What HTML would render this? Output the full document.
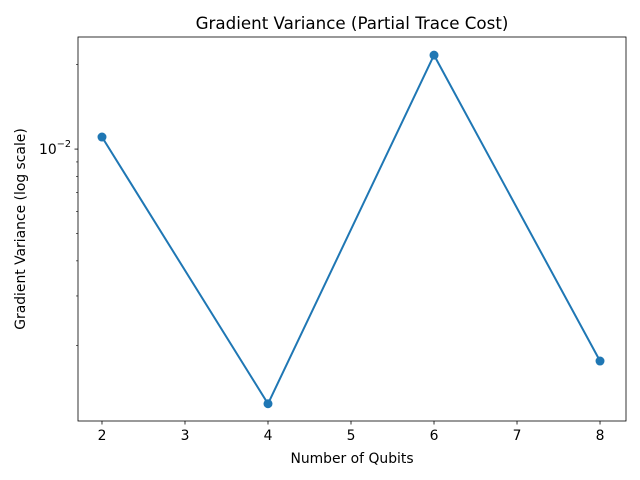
<!DOCTYPE html>
<html><head><meta charset="utf-8"><style>body{margin:0;background:#fff}svg{display:block;font-family:"DejaVu Sans","Liberation Sans",sans-serif}</style></head>
<body>
<svg id="c" width="640" height="480" xmlns="http://www.w3.org/2000/svg"></svg>
<script>
const qubits = [2, 4, 6, 8];
const variance = [0.01104, 0.00124, 0.0216, 0.00176];
const xTicks = [2, 3, 4, 5, 6, 7, 8];
const L=78,R=626,T=37,B=421;
const xmin=1.711,xmax=8.313,lymin=-2.968,lymax=-1.601;
const X=v=>L+(v-xmin)/(xmax-xmin)*(R-L);
const Y=v=>B-(Math.log10(v)-lymin)/(lymax-lymin)*(B-T);
const s=document.getElementById('c');const NS='http://www.w3.org/2000/svg';
function el(t,a,txt){const e=document.createElementNS(NS,t);for(const k in a)e.setAttribute(k,a[k]);if(txt!==undefined)e.textContent=txt;s.appendChild(e);return e;}
let e;
e=el('text',{x:352,y:29,'text-anchor':'middle','font-size':16.7},'Gradient Variance (Partial Trace Cost)');


xTicks.forEach(t=>{const x=X(t);
e=el('line',{x1:x,x2:x,y1:B,y2:B+3.5,stroke:'#000','stroke-width':0.8});


e=el('text',{x:x,y:B+19,'text-anchor':'middle','font-size':13.9},String(t));

});
for(let d=-3;d<=-2;d++)for(let m=1;m<=9;m++){const v=m*Math.pow(10,d);const lv=Math.log10(v);if(lv<lymin||lv>lymax)continue;const y=Y(v);
e=el('line',{x1:L,x2:L-(m===1?3.5:2),y1:y,y2:y,stroke:'#000','stroke-width':m===1?0.8:0.6});


if(m===1){e=el('text',{x:L-7,y:y+5,'text-anchor':'end','font-size':13.9});


e.innerHTML='10<tspan dy="-7" font-size="9.7">−'+(-d)+'</tspan>';}}
e=el('text',{x:352,y:463,'text-anchor':'middle','font-size':13.9},'Number of Qubits');


e=el('text',{x:0,y:0,'text-anchor':'middle','font-size':13.9,transform:'translate(25,229) rotate(-90)'},'Gradient Variance (log scale)');


e=el('polyline',{points:qubits.map((q,i)=>X(q)+','+Y(variance[i])).join(' '),fill:'none',stroke:'#1f77b4','stroke-width':2});


qubits.forEach((q,i)=>{e=el('circle',{cx:X(q),cy:Y(variance[i]),r:4.5,fill:'#1f77b4'});

});
e=el('rect',{x:L,y:T,width:R-L,height:B-T,fill:'none',stroke:'#000','stroke-width':0.8});


</script>
</body></html>
